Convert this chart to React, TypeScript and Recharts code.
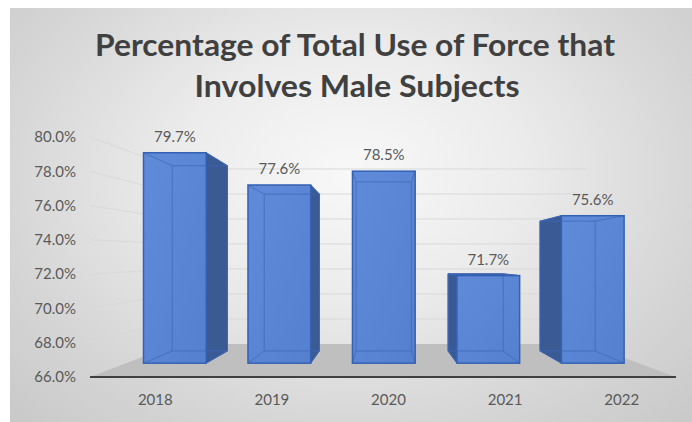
import { Bar, BarChart, CartesianGrid, LabelList, XAxis, YAxis } from "recharts";

const years = ["2018", "2019", "2020", "2021", "2022"];
const malePct = [79.7, 77.6, 78.5, 71.7, 75.6];
const yTicks = [66, 68, 70, 72, 74, 76, 78, 80];

const data = years.map((year, i) => ({ year, pct: malePct[i] }));

const W = 692;
const H = 422;
const FONT = "Lato, 'Open Sans', sans-serif";
const TEXT = "#595959";

// Excel's 3D column look, faked in 2D.
// Front plane of the columns sits a little into the box, pulled toward a vanishing point.
const FRONT_K = 0.896;
const FRONT_VX = 346;
const FRONT_VY = 244;
const front = (x: number, y: number) => [FRONT_VX + FRONT_K * (x - FRONT_VX), FRONT_VY + FRONT_K * (y - FRONT_VY)];

// back face of a column, relative to its front face
const DEPTH_T = 0.12;
const DEPTH_VX = 383;
const DEPTH_VY = 261;
const deep = (x: number, y: number) => [x + DEPTH_T * (DEPTH_VX - x), y + DEPTH_T * (DEPTH_VY - y)];

// back wall / back edge of the floor
const wall = (x: number, y: number) => [378 + 0.7 * (x - 378), 255 + 0.729 * (y - 255)];

const fmtPct = (v: number) => `${Number(v).toFixed(1)}%`;

// gridlines run along the left wall then across the back wall; the bottom one is the floor
function WallLine(props: any) {
  const { x1, y1, x2, y, height, index } = props;
  const fl = x1 - 7;
  const fr = x2 - 4;
  const [bl, by] = wall(fl, y1);
  const [br] = wall(fr, y1);
  if (Math.abs(y1 - (y + height)) < 0.5) {
    return (
      <g key={`floor-${index}`}>
        <polygon points={`${fl},${y1} ${fr},${y1} ${br},${by} ${bl},${by}`} fill="#bfbfbf" />
        <line x1={fl} y1={y1} x2={fr} y2={y1} stroke="#404040" strokeWidth={2.2} />
      </g>
    );
  }
  return (
    <g key={`grid-${index}`}>
      <line x1={fl} y1={y1} x2={bl} y2={by} stroke="#d9d9d9" strokeWidth={1} />
      <line x1={bl} y1={by} x2={br} y2={by} stroke="#d9d9d9" strokeWidth={1} />
    </g>
  );
}

function Column3D(props: any) {
  const { x, y, width, height } = props;
  const [fx1, fy1] = front(x, y);
  const [fx2, fy2] = front(x + width, y + height);
  const [bx1, by1] = deep(fx1, fy1);
  const [bx2, by2] = deep(fx2, fy2);
  const dark = "#3a5a94";
  const edge = "#3461b3";
  return (
    <g>
      {bx2 > fx2 + 0.5 && (
        <polygon points={`${fx2},${fy1} ${bx2},${by1} ${bx2},${by2} ${fx2},${fy2}`} fill={dark} stroke={edge} strokeWidth={1} />
      )}
      {bx1 < fx1 - 0.5 && (
        <polygon points={`${fx1},${fy1} ${bx1},${by1} ${bx1},${by2} ${fx1},${fy2}`} fill={dark} stroke={edge} strokeWidth={1} />
      )}
      {by1 < fy1 - 0.5 && (
        <polygon points={`${fx1},${fy1} ${fx2},${fy1} ${bx2},${by1} ${bx1},${by1}`} fill={dark} stroke={edge} strokeWidth={1} />
      )}
      <rect x={fx1} y={fy1} width={fx2 - fx1} height={fy2 - fy1} fill="url(#colFill)" />
      {/* edges of the box seen through the front face */}
      <g stroke="#4068b6" strokeWidth={1} strokeOpacity={0.75} fill="none">
        <rect x={bx1} y={by1} width={bx2 - bx1} height={by2 - by1} />
        <line x1={fx1} y1={fy1} x2={bx1} y2={by1} />
        <line x1={fx2} y1={fy1} x2={bx2} y2={by1} />
        <line x1={fx1} y1={fy2} x2={bx1} y2={by2} />
        <line x1={fx2} y1={fy2} x2={bx2} y2={by2} />
      </g>
      <rect x={fx1} y={fy1} width={fx2 - fx1} height={fy2 - fy1} fill="none" stroke={edge} strokeWidth={1.5} />
    </g>
  );
}

function ColumnLabel(props: any) {
  const { x, y, width, value } = props;
  const [cx, ty] = front(Number(x) + Number(width) / 2, Number(y));
  return (
    <text x={cx} y={ty - 17} textAnchor="middle" dominantBaseline="central" fill={TEXT} fontSize={15} fontFamily={FONT}>
      {fmtPct(value)}
    </text>
  );
}

export default function App() {
  return (
    <div style={{ position: "absolute", left: 0, top: 0, width: W, height: H, background: "#fff" }}>
      <div
        style={{
          position: "absolute",
          left: 10,
          top: 8,
          width: W - 10,
          height: H - 8,
          background: "radial-gradient(ellipse at 50% 40%, #f8f8f8 0%, #ececec 35%, #d6d6d6 72%, #c9c9c9 100%)",
        }}
      />
      <svg width={W} height={120} style={{ position: "absolute", left: 0, top: 0 }}>
        <g fill="#404040" fontFamily={FONT} fontWeight={700} fontSize={30} textAnchor="middle">
          <text x={355} y={56} textLength={520} lengthAdjust="spacingAndGlyphs">
            Percentage of Total Use of Force that
          </text>
          <text x={357} y={97} textLength={325} lengthAdjust="spacingAndGlyphs">
            Involves Male Subjects
          </text>
        </g>
      </svg>
      <div style={{ position: "absolute", left: 0, top: 0 }}>
        <BarChart width={W} height={H} data={data} margin={{ top: 137, right: 12, bottom: 15, left: 0 }}>
          <defs>
            <linearGradient id="colFill" x1="0" y1="0" x2="1" y2="1">
              <stop offset="0%" stopColor="#5f8bd9" />
              <stop offset="100%" stopColor="#5580d0" />
            </linearGradient>
          </defs>
          <CartesianGrid vertical={false} horizontal={WallLine} />
          <XAxis
            dataKey="year"
            height={30}
            interval={0}
            axisLine={false}
            tickLine={false}
            tickSize={0}
            tickMargin={17}
            tick={{ fill: TEXT, fontSize: 15, fontFamily: FONT }}
          />
          <YAxis
            width={97}
            domain={[66, 80]}
            ticks={yTicks}
            interval={0}
            axisLine={false}
            tickLine={false}
            tickSize={0}
            tickMargin={21}
            tickFormatter={fmtPct}
            tick={{ fill: TEXT, fontSize: 15, fontFamily: FONT }}
          />
          <Bar dataKey="pct" barSize={70} shape={(p: any) => <Column3D {...p} />} isAnimationActive={false}>
            <LabelList dataKey="pct" content={ColumnLabel} />
          </Bar>
        </BarChart>
      </div>
    </div>
  );
}
